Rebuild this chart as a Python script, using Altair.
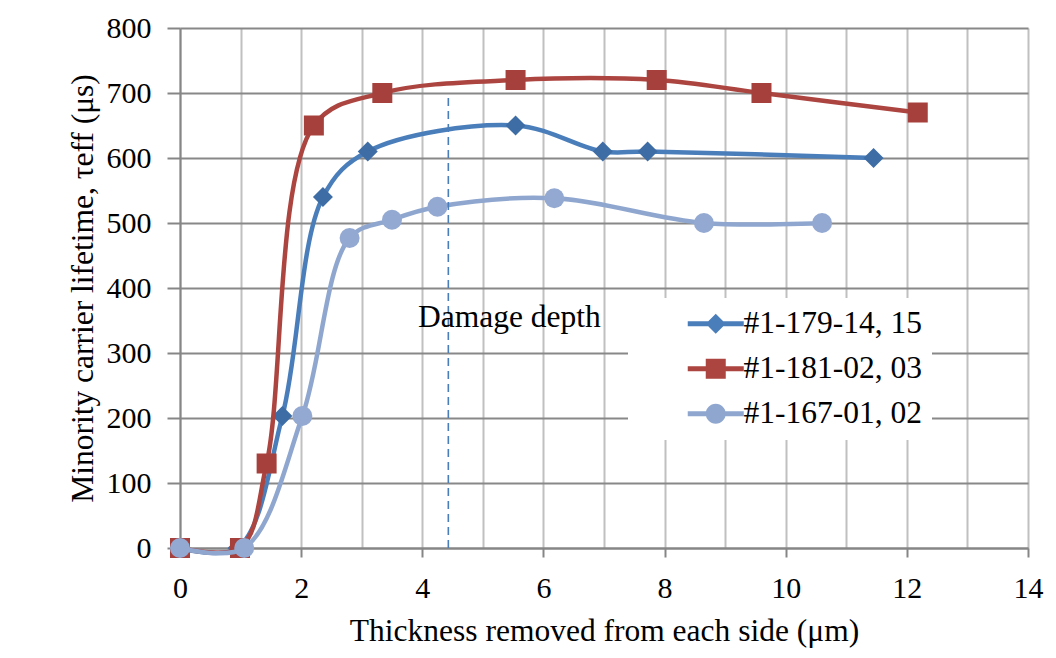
import altair as alt
import pandas as pd

# ---------------- data ----------------
series_names = ["#1-179-14, 15", "#1-181-02, 03", "#1-167-01, 02"]

x_179 = [0, 0.95, 1.69, 2.36, 3.10, 5.54, 6.98, 7.72, 11.45]
y_179 = [0, 0, 203, 540, 610, 650, 610, 610, 600]

x_181 = [0, 0.99, 1.43, 2.21, 3.34, 5.54, 7.87, 9.60, 12.18]
y_181 = [0, 0, 130, 650, 700, 720, 720, 700, 670]

x_167 = [0, 1.06, 2.02, 2.80, 3.50, 4.25, 6.18, 8.65, 10.60]
y_167 = [0, 0, 203, 477, 505, 525, 538, 500, 500]

damage_x = [4.43]
damage_bottom = [0]
damage_top = [700]
damage_label = ["Damage depth"]
damage_label_x = [3.93]
damage_label_y = [340]

x_ticks = list(range(0, 15))
y_ticks = list(range(0, 801, 100))

# ---------------- styles ----------------
FONT = "Liberation Serif"
line_colors = ["#4A7EBB", "#AC4440", "#8FA7CF"]
marker_colors = ["#3E6DA6", "#A6403D", "#93A9D1"]
marker_shapes = ["diamond", "square", "circle"]

bar = "M-2.8,-0.25L2.8,-0.25L2.8,0.25L-2.8,0.25Z "
legend_paths = [
    bar + "M0,-1L1,0L0,1L-1,0Z",
    bar + "M-1,-1L1,-1L1,1L-1,1Z",
    bar + "M-1,0A1,1,0,1,1,1,0A1,1,0,1,1,-1,0Z",
]

rows = []
for name, xs, ys in zip(series_names, [x_179, x_181, x_167], [y_179, y_181, y_167]):
    for i, (xv, yv) in enumerate(zip(xs, ys)):
        rows.append({"series": name, "x": xv, "y": yv, "idx": i})
df = pd.DataFrame(rows)

damage_df = pd.DataFrame({"x": damage_x, "y": damage_bottom, "y2": damage_top})
label_df = pd.DataFrame({"x": damage_label_x, "y": damage_label_y, "text": damage_label})

x_scale = alt.Scale(domain=[0, 14], nice=False, zero=False)
y_scale = alt.Scale(domain=[0, 800], nice=False)

x_axis = alt.Axis(
    values=x_ticks,
    labelExpr="datum.value % 2 == 0 ? datum.label : ''",
    tickOpacity={"condition": {"test": "datum.value % 2 != 0", "value": 0}, "value": 1},
    grid=True, gridColor="#C0C0C0", gridWidth=2,
    domainColor="#868686", domainWidth=2,
    tickColor="#868686", tickWidth=2, tickSize=9,
    labelPadding=16, labelFontSize=30, labelFont=FONT, labelColor="black",
    labelFlush=False, labelOverlap=False, format="d",
    title="Thickness removed from each side (μm)",
    titleFont=FONT, titleFontSize=31.5, titleFontWeight="normal", titleColor="black",
    titlePadding=12,
)
y_axis = alt.Axis(
    values=y_ticks,
    grid=True, gridColor="#888888", gridWidth=2,
    domainColor="#868686", domainWidth=2,
    tickColor="#868686", tickWidth=2, tickSize=13,
    labelPadding=16, labelFontSize=30, labelFont=FONT, labelColor="black",
    labelFlush=False, labelOverlap=False, format="d",
    title="Minority carrier lifetime, τeff (μs)",
    titleFont=FONT, titleFontSize=31.5, titleFontWeight="normal", titleColor="black",
    titlePadding=7,
)

X = alt.X("x:Q", scale=x_scale, axis=x_axis)
Y = alt.Y("y:Q", scale=y_scale, axis=y_axis)

layers = []
for name, lc, mc, shp in zip(series_names, line_colors, marker_colors, marker_shapes):
    base = alt.Chart(df).transform_filter(alt.datum.series == name)
    layers.append(
        base.mark_line(interpolate="catmull-rom", strokeWidth=4.5, color=lc)
        .encode(x=X, y=Y, order="idx:Q")
    )
    layers.append(
        base.mark_point(filled=True, shape=shp, size=400, opacity=1, color=mc)
        .encode(x=X, y=Y)
    )

damage_rule = alt.Chart(damage_df).mark_rule(
    color="#4A7EBB", strokeWidth=1.6, strokeDash=[8, 5]
).encode(x=X, y=Y, y2="y2:Q")

damage_text = alt.Chart(label_df).mark_text(
    align="left", baseline="alphabetic", font=FONT, fontSize=31.5, color="black"
).encode(x=X, y=Y, text="text:N")

legend_def = alt.Legend(
    title=None, orient="none", legendX=448, legendY=270,
    fillColor="white", padding=10,
    symbolSize=400, symbolOffset=62, symbolStrokeWidth=0,
    labelOffset=12, labelFont=FONT, labelFontSize=31.5, labelColor="black",
    labelLimit=0, rowPadding=12,
)
legend_layer = alt.Chart(df).transform_filter("false").mark_point(
    filled=True, opacity=1
).encode(
    color=alt.Color("series:N", scale=alt.Scale(domain=series_names, range=line_colors), legend=legend_def),
    shape=alt.Shape("series:N", scale=alt.Scale(domain=series_names, range=legend_paths), legend=legend_def),
)

chart = alt.layer(*layers, damage_rule, damage_text, legend_layer).properties(
    width=848, height=520,
    autosize=alt.AutoSizeParams(type="none"),
    padding={"left": 172, "top": 20, "right": 20, "bottom": 100},
    background="white",
).configure_view(stroke=None)

chart.save("out.html", embed_options={"renderer": "svg", "actions": False})
